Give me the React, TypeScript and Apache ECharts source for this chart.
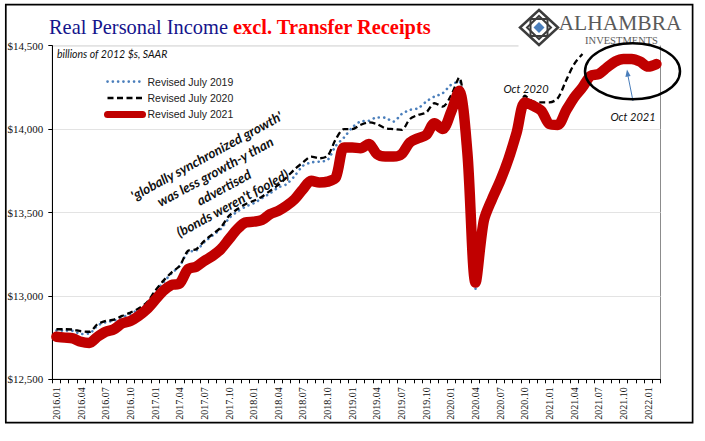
import React, { useEffect, useRef } from "react";
import * as echarts from "echarts";

const categories = [
  "2016.01","2016.02","2016.03","2016.04","2016.05","2016.06","2016.07","2016.08","2016.09","2016.10","2016.11","2016.12",
  "2017.01","2017.02","2017.03","2017.04","2017.05","2017.06","2017.07","2017.08","2017.09","2017.10","2017.11","2017.12",
  "2018.01","2018.02","2018.03","2018.04","2018.05","2018.06","2018.07","2018.08","2018.09","2018.10","2018.11","2018.12",
  "2019.01","2019.02","2019.03","2019.04","2019.05","2019.06","2019.07","2019.08","2019.09","2019.10","2019.11","2019.12",
  "2020.01","2020.02","2020.03","2020.04","2020.05","2020.06","2020.07","2020.08","2020.09","2020.10","2020.11","2020.12",
  "2021.01","2021.02","2021.03","2021.04","2021.05","2021.06","2021.07","2021.08","2021.09","2021.10","2021.11","2021.12",
  "2022.01","2022.02",
];

// Revised July 2019 vintage (2016.01 - 2020.04)
const revisedJuly2019 = [
  12792, 12792, 12790, 12772, 12775, 12822, 12842, 12852, 12872, 12892, 12918, 12952,
  13022, 13080, 13135, 13180, 13262, 13272, 13322, 13362, 13400, 13465, 13505, 13535,
  13555, 13585, 13615, 13650, 13670, 13720, 13780, 13800, 13805, 13815, 13900, 13950,
  14010, 14045, 14050, 14070, 14068, 14045, 14090, 14115, 14125, 14165, 14195, 14215,
  14265, 14285, 13860, 13040,
];

// Revised July 2020 vintage (2016.01 - 2021.05)
const revisedJuly2020 = [
  12800, 12800, 12798, 12788, 12785, 12830, 12850, 12858, 12880, 12900, 12925, 12960,
  13030, 13090, 13140, 13180, 13270, 13280, 13330, 13370, 13410, 13480, 13520, 13550,
  13570, 13595, 13630, 13665, 13710, 13760, 13800, 13835, 13825, 13840, 13940, 14000,
  14000, 14025, 14040, 14030, 14005, 14000, 13995, 14060, 14085, 14100, 14155, 14135,
  14200, 14310, 13870, 13070, 13440, 13570, 13680, 13810, 13970, 14200, 14165, 14160,
  14160, 14185, 14290, 14390, 14450,
];

// Revised July 2021 vintage (2016.01 - 2022.02)
const revisedJuly2021 = [
  12755, 12750, 12745, 12725, 12718, 12755, 12785, 12800, 12835, 12850, 12880, 12920,
  12975, 13030, 13065, 13075, 13160, 13175, 13210, 13240, 13280, 13340, 13400, 13440,
  13445, 13455, 13490, 13510, 13540, 13580, 13640, 13690, 13680, 13685, 13710, 13890,
  13890, 13885, 13910, 13850, 13835, 13835, 13850, 13920, 13945, 13965, 14035, 14000,
  14100, 14230, 13860, 13080, 13450, 13580, 13690, 13820, 13980, 14160, 14140, 14110,
  14030, 14025, 14110, 14190, 14250, 14320, 14330, 14370, 14405, 14420, 14420, 14405,
  14375, 14390,
];

const yTicks = { min: 12500, max: 14500, step: 500 };

export default function App() {
  const ref = useRef<HTMLDivElement>(null);

  useEffect(() => {
    if (!ref.current) return;
    const chart = echarts.init(ref.current, null, { renderer: "svg" });

    const noSymbol = { opacity: 0, borderWidth: 0 };

    const option: any = {
      animation: false,
      backgroundColor: "#ffffff",
      grid: {
        left: 52.3,
        top: 45.7,
        width: 608.2,
        height: 333.6,
        show: true,
        borderColor: "#8c8c8c",
        borderWidth: 1,
        backgroundColor: "transparent",
      },
      legend: {
        orient: "vertical",
        left: 99,
        top: 71,
        itemWidth: 35,
        itemHeight: 14,
        itemGap: 5.2,
        selectedMode: false,
        itemStyle: noSymbol,
        textStyle: { fontFamily: "Liberation Sans", fontSize: 10.5, color: "#222" },
        data: [
          { name: "Revised July 2019", lineStyle: { width: 2.6 }, itemStyle: noSymbol },
          { name: "Revised July 2020", lineStyle: { width: 2.3 }, itemStyle: noSymbol },
          { name: "Revised July 2021", lineStyle: { width: 7 }, itemStyle: noSymbol },
        ],
      },
      xAxis: {
        type: "category",
        data: categories,
        boundaryGap: true,
        axisLine: { lineStyle: { color: "#000", width: 1 } },
        axisTick: { show: true, interval: 0, length: 4, lineStyle: { color: "#000" } },
        axisLabel: {
          interval: 2,
          rotate: 90,
          margin: 8,
          fontFamily: "Liberation Serif",
          fontSize: 10,
          color: "#111",
        },
        splitLine: { show: false },
      },
      yAxis: {
        type: "value",
        min: yTicks.min,
        max: yTicks.max,
        interval: yTicks.step,
        axisLine: { show: true, lineStyle: { color: "#000", width: 1 } },
        axisTick: { show: true, length: 4, lineStyle: { color: "#000" } },
        axisLabel: {
          margin: 9,
          fontFamily: "Liberation Serif",
          fontSize: 11,
          color: "#111",
          formatter: (v: number) => "$" + v.toLocaleString("en-US"),
        },
        splitLine: { show: true, lineStyle: { color: "#e3e3e3", width: 1 } },
      },
      series: [
        {
          name: "Revised July 2019",
          type: "line",
          data: revisedJuly2019,
          smooth: 0.3,
          symbol: "none",
          lineStyle: { color: "#4a7ebb", width: 2.6, type: [0.1, 5.2], cap: "round" },
          itemStyle: { color: "#4a7ebb" },
          z: 2,
        },
        {
          name: "Revised July 2020",
          type: "line",
          data: revisedJuly2020,
          smooth: 0.3,
          symbol: "none",
          lineStyle: { color: "#000000", width: 2.3, type: [6, 3.5] },
          itemStyle: { color: "#000000" },
          z: 3,
        },
        {
          name: "Revised July 2021",
          type: "line",
          data: revisedJuly2021,
          smooth: 0.3,
          symbol: "none",
          lineStyle: { color: "#c00000", width: 10.5, cap: "round", join: "round" },
          itemStyle: { color: "#c00000" },
          z: 4,
        },
      ],
      graphic: [
        {
          type: "rect",
          z: 50,
          shape: { x: 5.8, y: 4.6, width: 686.8, height: 418 },
          style: { fill: "none", stroke: "#000", lineWidth: 1.7 },
        },
        {
          type: "text",
          z: 50,
          x: 49,
          y: 26.5,
          style: {
            text: "{a|Real Personal Income} {b|excl. Transfer Receipts}",
            fontFamily: "Liberation Serif",
            fontSize: 20.4,
            verticalAlign: "middle",
            align: "left",
            rich: {
              a: { fontFamily: "Liberation Serif", fontSize: 20.4, fill: "#14148c" },
              b: { fontFamily: "Liberation Serif", fontSize: 20.4, fontWeight: "bold", fill: "#ff0000" },
            },
          },
        },
        {
          type: "text",
          z: 50,
          x: 57,
          y: 53.5,
          style: {
            text: "billions of 2012 $s, SAAR",
            fontFamily: "Lato",
            fontStyle: "italic",
            fontSize: 10.5,
            fill: "#111",
            verticalAlign: "middle",
            align: "left",
          },
        },
        {
          type: "text",
          z: 50,
          x: 219.5,
          y: 179.5,
          rotation: 0.5,
          style: {
            text: "'globally synchronized growth'\nwas less growth-y than\nadvertised\n(bonds weren't fooled)",
            fontFamily: "Lato",
            fontStyle: "italic",
            fontWeight: "bold",
            fontSize: 13.5,
            lineHeight: 18,
            fill: "#111",
            align: "center",
            verticalAlign: "middle",
          },
        },
        {
          type: "text",
          z: 50,
          x: 526,
          y: 88.5,
          style: {
            text: "Oct 2020",
            fontFamily: "Lato",
            fontStyle: "italic",
            fontSize: 11,
            fill: "#111",
            align: "center",
            verticalAlign: "middle",
          },
        },
        {
          type: "text",
          z: 50,
          x: 633,
          y: 116,
          style: {
            text: "Oct 2021",
            fontFamily: "Lato",
            fontStyle: "italic",
            fontSize: 11,
            fill: "#111",
            align: "center",
            verticalAlign: "middle",
          },
        },
        {
          type: "line",
          z: 50,
          shape: { x1: 633, y1: 101, x2: 627.6, y2: 74 },
          style: { stroke: "#4a7ebb", lineWidth: 1 },
        },
        {
          type: "polygon",
          z: 50,
          shape: { points: [[627, 69.5], [630.6, 76], [625.4, 77]] },
          style: { fill: "#4a7ebb" },
        },
        // logo
        {
          type: "rect",
          z: 40,
          shape: { x: 518.5, y: 6, width: 141, height: 41 },
          style: { fill: "#ffffff" },
        },
        {
          type: "polygon",
          z: 41,
          shape: { points: [[539, 10], [558, 27.5], [539, 45], [520, 27.5]] },
          style: { fill: "none", stroke: "#3c3c3c", lineWidth: 2.5 },
        },
        {
          type: "polygon",
          z: 41,
          shape: { points: [[539, 16], [551, 27.5], [539, 39], [527, 27.5]] },
          style: { fill: "none", stroke: "#3c3c3c", lineWidth: 2 },
        },
        {
          type: "rect",
          z: 41,
          shape: { x: 530.5, y: 19, width: 17, height: 17 },
          style: { fill: "none", stroke: "#3c3c3c", lineWidth: 2 },
        },
        {
          type: "polygon",
          z: 42,
          shape: { points: [[539, 22], [544.5, 27.5], [539, 33], [533.5, 27.5]] },
          style: { fill: "#4a7ebb" },
        },
        {
          type: "text",
          z: 42,
          x: 558.5,
          y: 33.5,
          style: {
            text: "ALHAMBRA",
            fontFamily: "Liberation Serif",
            fontSize: 21.5,
            fill: "#5a5a5a",
            align: "left",
            verticalAlign: "bottom",
          },
        },
        {
          type: "text",
          z: 42,
          x: 621.5,
          y: 45.5,
          style: {
            text: "INVESTMENTS",
            fontFamily: "Liberation Serif",
            fontSize: 10.5,
            fill: "#5a5a5a",
            align: "center",
            verticalAlign: "bottom",
          },
        },
        {
          type: "ellipse",
          z: 50,
          shape: { cx: 632.5, cy: 71.3, rx: 47.5, ry: 28 },
          style: { fill: "none", stroke: "#000", lineWidth: 2.5 },
        },
      ],
    };

    chart.setOption(option);
    return () => chart.dispose();
  }, []);

  return (
    <div
      ref={ref}
      style={{ position: "absolute", left: 0, top: 0, width: 705, height: 441, background: "#fff" }}
    />
  );
}
